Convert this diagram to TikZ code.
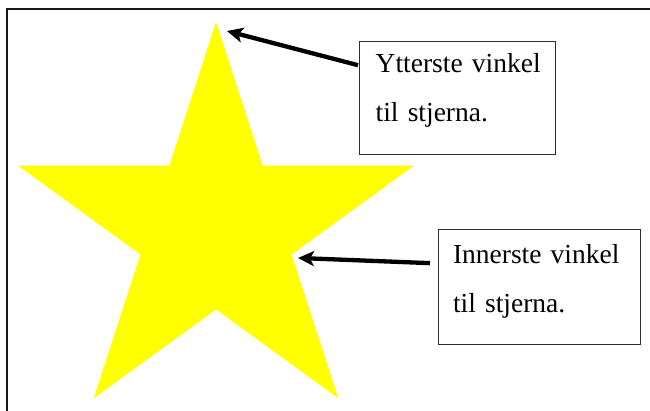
\documentclass[tikz,border=0pt]{standalone}
\usepackage{fontspec}
\setmainfont{Liberation Serif}
\usetikzlibrary{shapes.geometric,arrows.meta}

\definecolor{staryellow}{RGB}{255,255,0}
\definecolor{framegray}{RGB}{25,25,25}
\definecolor{boxgray}{RGB}{45,45,45}

\tikzset{
  labelbox/.style={draw=boxgray, line width=1pt, rectangle, outer sep=0pt,
    align=left, anchor=north west,
    font=\fontsize{27.5}{49}\selectfont},
  pointer/.style={draw=black, line width=4.3pt,
    -{Stealth[length=16pt,width=15pt,inset=4pt]}},
}

\begin{document}
\begin{tikzpicture}[x=1pt,y=-1pt]
  \useasboundingbox (0,0) rectangle (650,410);

  % page frame (top and left edges)
  \draw[framegray, line width=1.5pt] (7,411) -- (7,9) -- (651,9);

  % five-pointed star
  \node[star, star points=5, star point ratio=2.618, minimum size=416pt,
        inner sep=0pt, outer sep=0pt, fill=staryellow, draw=none]
        (star) at (216,230) {};

  % text boxes
  \node[labelbox, text width=162.6pt, inner xsep=16.7pt, inner ysep=12pt]
        (box1) at (359,41)
        {\mbox{Ytterste vinkel}\\til stjerna.\rule[-21.3pt]{0pt}{1pt}};
  \node[labelbox, text width=172pt, inner xsep=15pt, inner ysep=15.2pt]
        (box2) at (438,229)
        {\mbox{Innerste vinkel}\\til stjerna.\rule[-16.8pt]{0pt}{1pt}};

  % arrows to the star's angles
  \draw[pointer] ([xshift=-1pt,yshift=32.5pt]box1.west)
        -- ([xshift=11pt,yshift=-9pt]star.90);
  \draw[pointer] ([xshift=-8pt,yshift=23.5pt]box2.west)
        -- ([xshift=6.4pt,yshift=-3.4pt]star.-18);
\end{tikzpicture}
\end{document}
